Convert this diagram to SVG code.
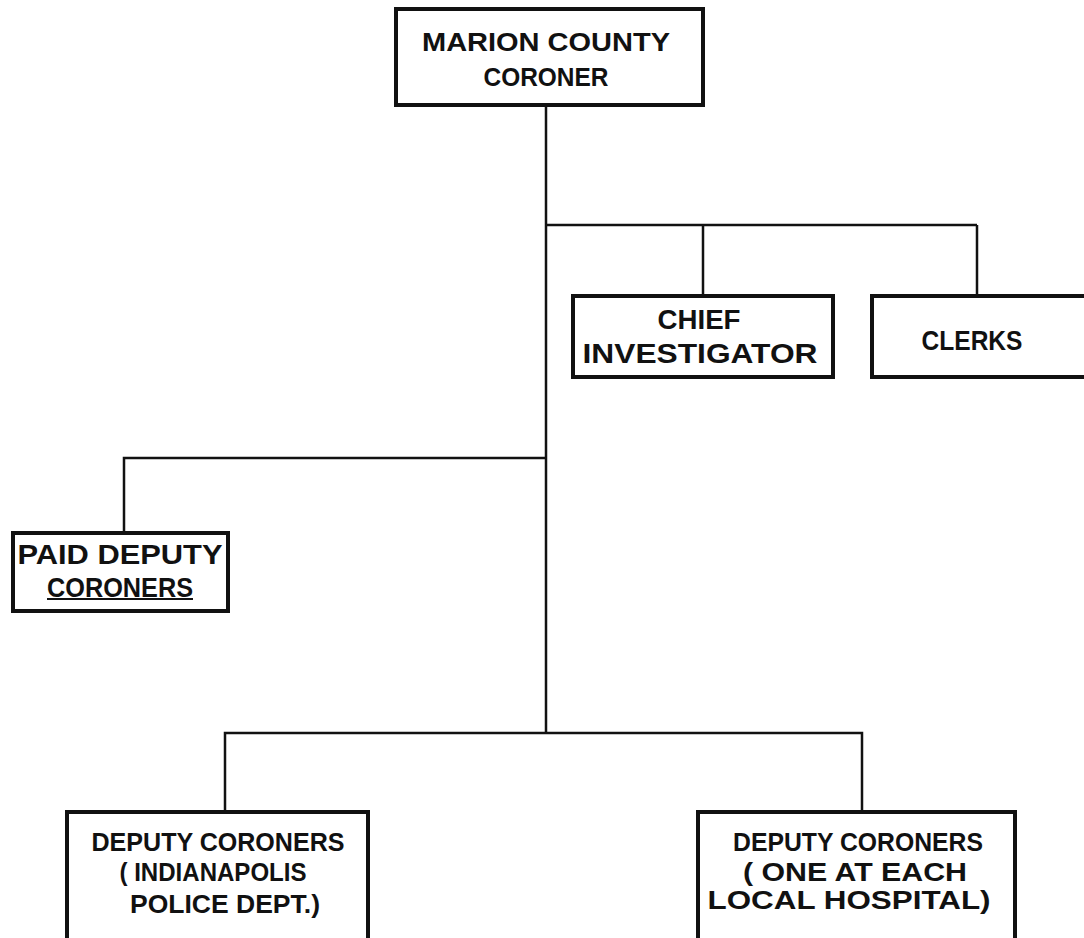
<svg xmlns="http://www.w3.org/2000/svg" width="1084" height="938" viewBox="0 0 1084 938">
<style>
.box{fill:#fff;stroke:#111;stroke-width:4}
.conn{fill:none;stroke:#111;stroke-width:2.5}
text{font-family:"Liberation Sans",Arial,sans-serif;font-weight:bold;fill:#111;text-anchor:middle;font-size:26px}
.lg{font-size:28px}
.sm{font-size:25px}
</style>
<rect width="1084" height="938" fill="#fff"/>
<g id="connectors">
<path class="conn" d="M546 105V733"/>
<path class="conn" d="M546 225H977M703 225V296M977 225V296"/>
<path class="conn" d="M546 458H124V533"/>
<path class="conn" d="M225 811V733H862V811"/>
</g>
<g id="marion">
<rect class="box" x="396" y="9" width="307" height="96"/>
<text x="546" y="51" textLength="248" lengthAdjust="spacingAndGlyphs">MARION COUNTY</text>
<text x="546" y="86" textLength="125" lengthAdjust="spacingAndGlyphs">CORONER</text>
</g>
<g id="chief">
<rect class="box" x="573" y="296" width="260" height="81"/>
<text class="lg" x="699" y="329" textLength="83" lengthAdjust="spacingAndGlyphs">CHIEF</text>
<text class="lg" x="700" y="363" textLength="235" lengthAdjust="spacingAndGlyphs">INVESTIGATOR</text>
</g>
<g id="clerks">
<rect class="box" x="872" y="296" width="230" height="81"/>
<text class="lg" x="972" y="350" textLength="101" lengthAdjust="spacingAndGlyphs">CLERKS</text>
</g>
<g id="paid">
<rect class="box" x="13" y="533" width="215" height="78"/>
<text class="lg" x="120" y="564" textLength="205" lengthAdjust="spacingAndGlyphs">PAID DEPUTY</text>
<text class="lg" x="120" y="597" textLength="146" lengthAdjust="spacingAndGlyphs">CORONERS</text>
<line x1="47" y1="599" x2="193" y2="599" stroke="#111" stroke-width="2"/>
</g>
<g id="dep-ipd">
<rect class="box" x="67" y="812" width="301" height="140"/>
<text class="sm" x="218" y="851" textLength="253" lengthAdjust="spacingAndGlyphs">DEPUTY CORONERS</text>
<text class="sm" x="213" y="881" textLength="187" lengthAdjust="spacingAndGlyphs">( INDIANAPOLIS</text>
<text class="sm" x="225" y="913" textLength="190" lengthAdjust="spacingAndGlyphs">POLICE DEPT.)</text>
</g>
<g id="dep-hosp">
<rect class="box" x="698" y="812" width="317" height="140"/>
<text class="sm" x="858" y="851" textLength="250" lengthAdjust="spacingAndGlyphs">DEPUTY CORONERS</text>
<text class="sm" x="855" y="881" textLength="224" lengthAdjust="spacingAndGlyphs">( ONE AT EACH</text>
<text class="sm" x="849" y="909" textLength="283" lengthAdjust="spacingAndGlyphs">LOCAL HOSPITAL)</text>
</g>
</svg>
